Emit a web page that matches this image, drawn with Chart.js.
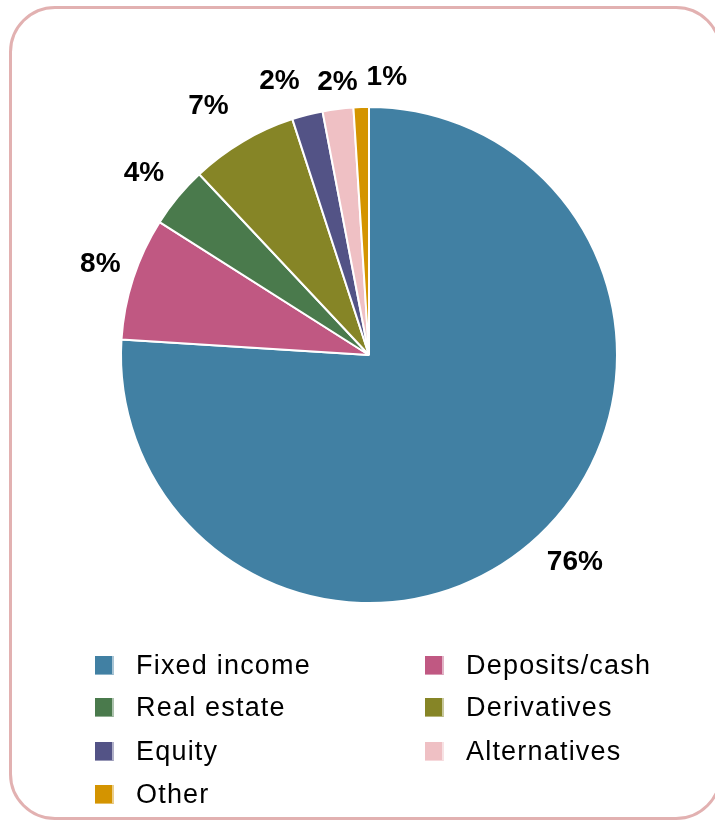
<!DOCTYPE html>
<html>
<head>
<meta charset="utf-8">
<script src="https://cdn.jsdelivr.net/npm/chart.js@4.4.1/dist/chart.umd.min.js"></script>
<style>
  html, body { margin: 0; padding: 0; background: #fff; }
  #wrap { position: relative; width: 715px; height: 821px; overflow: hidden; }
  #frame { position: absolute; left: 9px; top: 6px; width: 713px; height: 814px; box-sizing: border-box;
           border: 3px solid #e2b1b1; border-radius: 46px; }
  #c { position: absolute; left: 0; top: 0; }
  #legend { position: absolute; left: 0; top: 0; width: 715px; height: 821px; pointer-events: none;
            font-family: "Liberation Sans", Arial, sans-serif; font-size: 27px; color: #000; }
  .li { position: absolute; height: 20px; display: flex; align-items: center; white-space: nowrap; }
  .li .sw { width: 19px; height: 19px; flex: 0 0 19px; margin-right: 22px; box-sizing: border-box; }
  .li .tx { letter-spacing: 1.2px; line-height: 20px; }
</style>
</head>
<body>
<div id="wrap">
  <div id="frame"></div>
  <canvas id="c" width="715" height="821"></canvas>
  <div id="legend"></div>
</div>
<script>
const categories = ["Fixed income", "Deposits/cash", "Real estate", "Derivatives", "Equity", "Alternatives", "Other"];
const shares = [76, 8, 4, 7, 2, 2, 1];
const colors = ["#4180a3", "#c05882", "#4a7a4c", "#868526", "#535386", "#efc0c4", "#d49400"];

// label placement styling (pixel nudges from the radial position)
const labelNudges = [[6, -6], [9, 0], [0, 4], [-12, 3], [-17, 9], [5, 17], [27, 14]];
// legend grid: column x, row y (top of marker)
const legendCols = [95, 425];
const legendRows = [655, 697, 741, 784];

const pctLabels = {
  id: 'pctLabels',
  afterDatasetsDraw(chart) {
    const ctx = chart.ctx;
    const meta = chart.getDatasetMeta(0);
    const ds = chart.data.datasets[0];
    const total = ds.data.reduce((a, b) => a + b, 0);
    ctx.save();
    ctx.font = 'bold 28px "Liberation Sans", Arial, sans-serif';
    ctx.fillStyle = '#000';
    ctx.textAlign = 'center';
    ctx.textBaseline = 'middle';
    meta.data.forEach((arc, i) => {
      const p = arc.getProps(['x', 'y', 'startAngle', 'endAngle', 'outerRadius'], true);
      const mid = (p.startAngle + p.endAngle) / 2;
      const r = p.outerRadius + 44;
      const n = labelNudges[i] || [0, 0];
      const x = p.x + Math.cos(mid) * r + n[0];
      const y = p.y + Math.sin(mid) * r + n[1];
      ctx.fillText(Math.round(ds.data[i] / total * 100) + '%', x, y);
    });
    ctx.restore();
  }
};

const htmlLegend = {
  id: 'htmlLegend',
  afterUpdate(chart) {
    const box = document.getElementById('legend');
    box.innerHTML = '';
    const items = chart.options.plugins.legend.labels.generateLabels(chart);
    items.forEach((item, i) => {
      const col = i % 2, row = Math.floor(i / 2);
      const el = document.createElement('div');
      el.className = 'li';
      el.style.left = legendCols[col] + 'px';
      el.style.top = legendRows[row] + 'px';
      const sw = document.createElement('span');
      sw.className = 'sw';
      sw.style.background = item.fillStyle;
      sw.style.borderRight = '2px solid rgba(255,255,255,0.55)';
      sw.style.borderBottom = '1px solid rgba(255,255,255,0.4)';
      const tx = document.createElement('span');
      tx.className = 'tx';
      tx.textContent = item.text;
      el.appendChild(sw); el.appendChild(tx);
      box.appendChild(el);
    });
  }
};

new Chart(document.getElementById('c'), {
  type: 'pie',
  data: {
    labels: categories,
    datasets: [{
      data: shares,
      backgroundColor: colors,
      borderColor: '#ffffff',
      borderWidth: 2
    }]
  },
  options: {
    responsive: false,
    animation: false,
    layout: { padding: { left: 120, right: 97, top: 106, bottom: 217 } },
    plugins: {
      legend: { display: false },
      tooltip: { enabled: false }
    }
  },
  plugins: [pctLabels, htmlLegend]
});
</script>
</body>
</html>
